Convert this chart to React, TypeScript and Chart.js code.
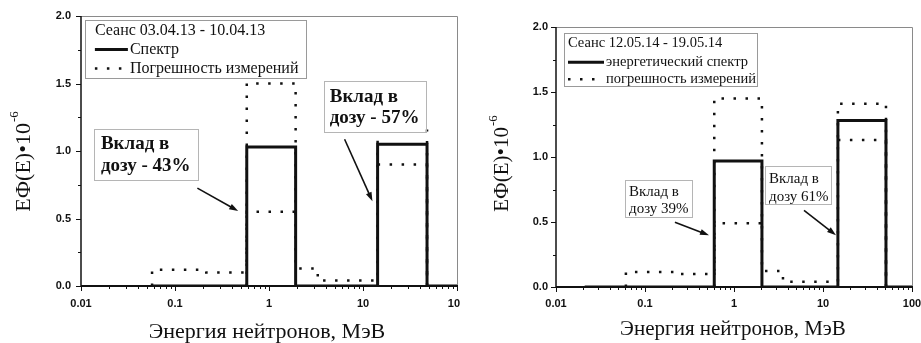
import React, { useEffect, useRef } from "react";
import { Chart, registerables } from "chart.js";

Chart.register(...registerables);

// Session 03.04.13 – 10.04.13: bin edges (MeV) and E·Φ(E) values (×10^-6)
const spectrumEdgesA = [0.057, 0.58, 1.92, 14.3, 48, 100];
const spectrumA = [0, 1.03, 0, 1.05, 0];
const upperEdgesA = [0.057, 0.215, 0.58, 1.92, 3.3, 14.3, 48];
const upperA = [0.12, 0.1, 1.5, 0.13, 0.04, 1.15];
const lowerEdgesA = [0.58, 1.92, 14.3, 48];
const lowerA: (number | null)[] = [0.55, null, 0.9];

// Session 12.05.14 – 19.05.14
const spectrumEdgesB = [0.021, 0.6, 2.06, 14.7, 51, 100];
const spectrumB = [0, 0.97, 0, 1.28, 0];
const upperEdgesB = [0.061, 0.247, 0.6, 2.06, 3.55, 14.7, 51];
const upperB = [0.115, 0.1, 1.45, 0.123, 0.04, 1.41];
const lowerEdgesB = [0.6, 2.06, 14.7, 51];
const lowerB: (number | null)[] = [0.49, null, 1.13];

// Axis ticks
const xTickValues = [0.01, 0.1, 1, 10, 100];
const xTickLabels = ["0.01", "0.1", "1", "10", "100"];
const yTickValues = [0, 0.5, 1, 1.5, 2];
const yTickLabels = ["0.0", "0.5", "1.0", "1.5", "2.0"];

const SERIF = "'Liberation Serif', 'Times New Roman', serif";
const SANS = "'Liberation Sans', Arial, sans-serif";
const INK = "#111";
const HEIGHT = 343;

type Pt = { x: number; y: number | null };

// Turns bin edges + per-bin values into a histogram outline.
function stepPoints(edges: number[], values: (number | null)[]): Pt[] {
  const pts: Pt[] = [{ x: edges[0], y: 0 }];
  values.forEach((v, i) => {
    if (v === null) pts.push({ x: (edges[i] + edges[i + 1]) / 2, y: null });
    else pts.push({ x: edges[i], y: v }, { x: edges[i + 1], y: v });
  });
  pts.push({ x: edges[edges.length - 1], y: 0 });
  return pts;
}

type Note = {
  at: [number, number];
  size: [number, number];
  lines: string[];
  lineY: number[];
  textX: number;
  font: string;
  from: [number, number];
  to: [number, number];
};

type LegendCfg = {
  at: [number, number];
  size: [number, number];
  title: string;
  items: string[];
  rowY: number[];
  sample: [number, number];
  textX: number;
  font: string;
};

type PanelCfg = {
  left: number;
  clipWidth: number;
  canvasWidth: number;
  area: { left: number; top: number; right: number; bottom: number };
  xLabelPad: number;
  yLabelPad: number;
  spectrum: Pt[];
  upper: Pt[];
  lower: Pt[];
  legend: LegendCfg;
  notes: Note[];
  yTitle: { x: number; y: number; size: number };
  xTitle: { x: number; y: number; size: number };
};

const DOT_DASH = [2.5, 9.5];

const panels: PanelCfg[] = [
  {
    left: 0,
    clipWidth: 460,
    canvasWidth: 480,
    area: { left: 81, top: 16, right: 457, bottom: 286 },
    xLabelPad: 11,
    yLabelPad: 10,
    spectrum: stepPoints(spectrumEdgesA, spectrumA),
    upper: stepPoints(upperEdgesA, upperA),
    lower: stepPoints(lowerEdgesA, lowerA),
    legend: {
      at: [0.011, 1.974],
      size: [221, 58],
      title: "Сеанс 03.04.13 - 10.04.13",
      items: ["Спектр", "Погрешность измерений"],
      rowY: [11, 30, 49],
      sample: [10, 43],
      textX: 45,
      font: `16px ${SERIF}`,
    },
    notes: [
      {
        at: [0.01373, 1.161],
        size: [104, 51],
        lines: ["Вклад в", "дозу - 43%"],
        lineY: [15, 37],
        textX: 7,
        font: `bold 19px ${SERIF}`,
        from: [0.173, 0.725],
        to: [0.47, 0.555],
      },
      {
        at: [3.82, 1.516],
        size: [102, 51],
        lines: ["Вклад в", "дозу - 57%"],
        lineY: [16, 37],
        textX: 6,
        font: `bold 19px ${SERIF}`,
        from: [6.37, 1.087],
        to: [12.6, 0.628],
      },
    ],
    yTitle: { x: 24, y: 162, size: 22 },
    xTitle: { x: 267, y: 332, size: 22 },
  },
  {
    left: 460,
    clipWidth: 461,
    canvasWidth: 470,
    area: { left: 96, top: 27, right: 452, bottom: 287 },
    xLabelPad: 10,
    yLabelPad: 8,
    spectrum: stepPoints(spectrumEdgesB, spectrumB),
    upper: stepPoints(upperEdgesB, upperB),
    lower: stepPoints(lowerEdgesB, lowerB),
    legend: {
      at: [0.0123, 1.952],
      size: [193, 53],
      title: "Сеанс 12.05.14 - 19.05.14",
      items: ["энергетический спектр", "погрешность измерений"],
      rowY: [10, 29, 46],
      sample: [4, 40],
      textX: 42,
      font: `14.5px ${SERIF}`,
    },
    notes: [
      {
        at: [0.0596, 0.821],
        size: [67, 37],
        lines: ["Вклад в", "дозу 39%"],
        lineY: [12, 29],
        textX: 4,
        font: `15px ${SERIF}`,
        from: [0.217, 0.498],
        to: [0.524, 0.398],
      },
      {
        at: [2.23, 0.928],
        size: [66, 38],
        lines: ["Вклад в", "дозу 61%"],
        lineY: [13, 31],
        textX: 4,
        font: `15px ${SERIF}`,
        from: [6.12, 0.59],
        to: [14.0, 0.398],
      },
    ],
    yTitle: { x: 42, y: 164, size: 21 },
    xTitle: { x: 273, y: 329, size: 21 },
  },
];

function drawArrow(ctx: CanvasRenderingContext2D, x1: number, y1: number, x2: number, y2: number) {
  const ang = Math.atan2(y2 - y1, x2 - x1);
  const len = 9;
  const half = 3;
  ctx.save();
  ctx.strokeStyle = INK;
  ctx.fillStyle = INK;
  ctx.lineWidth = 1.6;
  ctx.beginPath();
  ctx.moveTo(x1, y1);
  ctx.lineTo(x2 - Math.cos(ang) * len * 0.8, y2 - Math.sin(ang) * len * 0.8);
  ctx.stroke();
  ctx.beginPath();
  ctx.moveTo(x2, y2);
  ctx.lineTo(
    x2 - Math.cos(ang) * len - Math.sin(ang) * half,
    y2 - Math.sin(ang) * len + Math.cos(ang) * half
  );
  ctx.lineTo(
    x2 - Math.cos(ang) * len + Math.sin(ang) * half,
    y2 - Math.sin(ang) * len - Math.cos(ang) * half
  );
  ctx.closePath();
  ctx.fill();
  ctx.restore();
}

function makeDecorPlugin(cfg: PanelCfg) {
  return {
    id: "decor",
    afterDatasetsDraw(chart: any) {
      const ctx: CanvasRenderingContext2D = chart.ctx;
      const xs = chart.scales.x;
      const ys = chart.scales.y;
      const a = chart.chartArea;
      const px = (v: number) => xs.getPixelForValue(v);
      const py = (v: number) => ys.getPixelForValue(v);

      ctx.save();
      // frame: light top/right, dark axes
      ctx.strokeStyle = "#8a8a8a";
      ctx.lineWidth = 1;
      ctx.beginPath();
      ctx.moveTo(a.left, a.top + 0.5);
      ctx.lineTo(a.right + 0.5, a.top + 0.5);
      ctx.lineTo(a.right + 0.5, a.bottom);
      ctx.stroke();

      ctx.strokeStyle = INK;
      ctx.lineWidth = 1.5;
      ctx.beginPath();
      ctx.moveTo(a.left, a.top);
      ctx.lineTo(a.left, a.bottom);
      ctx.stroke();
      ctx.lineWidth = 2;
      ctx.beginPath();
      ctx.moveTo(a.left, a.bottom);
      ctx.lineTo(a.right + 1, a.bottom);
      ctx.stroke();

      // tick marks
      ctx.lineWidth = 1;
      ctx.beginPath();
      for (let n = -2; n <= 2; n++) {
        for (let k = 1; k <= 9; k++) {
          const v = k * Math.pow(10, n);
          if (v > 100.0001) break;
          const x = Math.round(px(v)) + 0.5;
          const len = k === 1 ? 5 : 3;
          ctx.moveTo(x, a.bottom);
          ctx.lineTo(x, a.bottom + len);
        }
      }
      for (let i = 0; i <= 8; i++) {
        const v = i * 0.25;
        const y = Math.round(py(v)) + 0.5;
        const len = i % 2 === 0 ? 5 : 3;
        ctx.moveTo(a.left - len, y);
        ctx.lineTo(a.left, y);
      }
      ctx.stroke();

      // legend
      const lg = cfg.legend;
      const lx = px(lg.at[0]);
      const ly = py(lg.at[1]);
      ctx.fillStyle = "#fff";
      ctx.fillRect(lx, ly, lg.size[0], lg.size[1]);
      ctx.strokeStyle = "#9a9a9a";
      ctx.lineWidth = 1;
      ctx.strokeRect(Math.round(lx) + 0.5, Math.round(ly) + 0.5, lg.size[0], lg.size[1]);
      ctx.fillStyle = INK;
      ctx.font = lg.font;
      ctx.textBaseline = "middle";
      ctx.textAlign = "left";
      ctx.fillText(lg.title, lx + lg.sample[0], ly + lg.rowY[0]);
      lg.items.forEach((label, i) => {
        const y = ly + lg.rowY[i + 1];
        ctx.save();
        ctx.strokeStyle = INK;
        if (i === 0) {
          ctx.lineWidth = 3;
          ctx.setLineDash([]);
        } else {
          ctx.lineWidth = 2.5;
          ctx.setLineDash(DOT_DASH);
        }
        ctx.beginPath();
        ctx.moveTo(lx + lg.sample[0], y);
        ctx.lineTo(lx + lg.sample[1], y);
        ctx.stroke();
        ctx.restore();
        ctx.fillText(label, lx + lg.textX, y);
      });

      // callouts
      cfg.notes.forEach((n) => {
        const bx = px(n.at[0]);
        const by = py(n.at[1]);
        ctx.fillStyle = "#fff";
        ctx.fillRect(bx, by, n.size[0], n.size[1]);
        ctx.strokeStyle = "#b5b5b5";
        ctx.lineWidth = 1;
        ctx.strokeRect(Math.round(bx) + 0.5, Math.round(by) + 0.5, n.size[0], n.size[1]);
        ctx.fillStyle = INK;
        ctx.font = n.font;
        ctx.textBaseline = "middle";
        ctx.textAlign = "left";
        n.lines.forEach((t, i) => ctx.fillText(t, bx + n.textX, by + n.lineY[i]));
        drawArrow(ctx, px(n.from[0]), py(n.from[1]), px(n.to[0]), py(n.to[1]));
      });

      // axis titles
      ctx.fillStyle = INK;
      ctx.textBaseline = "middle";
      ctx.textAlign = "center";
      ctx.font = `${cfg.xTitle.size}px ${SERIF}`;
      ctx.fillText("Энергия нейтронов, МэВ", cfg.xTitle.x, cfg.xTitle.y);

      const main = "EФ(E)•10";
      const sup = "-6";
      ctx.save();
      ctx.translate(cfg.yTitle.x, cfg.yTitle.y);
      ctx.rotate(-Math.PI / 2);
      ctx.textAlign = "left";
      ctx.font = `${cfg.yTitle.size}px ${SERIF}`;
      const wm = ctx.measureText(main).width;
      ctx.font = `${Math.round(cfg.yTitle.size * 0.6)}px ${SERIF}`;
      const ws = ctx.measureText(sup).width;
      const start = -(wm + ws) / 2;
      ctx.font = `${cfg.yTitle.size}px ${SERIF}`;
      ctx.fillText(main, start, 0);
      ctx.font = `${Math.round(cfg.yTitle.size * 0.6)}px ${SERIF}`;
      ctx.fillText(sup, start + wm + 1, -cfg.yTitle.size * 0.42);
      ctx.restore();

      ctx.restore();
    },
  };
}

function Panel({ cfg }: { cfg: PanelCfg }) {
  const ref = useRef<HTMLCanvasElement | null>(null);

  useEffect(() => {
    if (!ref.current) return;
    const { area, canvasWidth } = cfg;
    const chart = new Chart(ref.current, {
      type: "line",
      data: {
        datasets: [
          {
            label: "spectrum",
            data: cfg.spectrum as any,
            borderColor: INK,
            borderWidth: 3,
            pointRadius: 0,
            tension: 0,
            borderJoinStyle: "miter",
            spanGaps: false,
          },
          {
            label: "upper",
            data: cfg.upper as any,
            borderColor: INK,
            borderWidth: 2.5,
            borderDash: DOT_DASH,
            pointRadius: 0,
            tension: 0,
            spanGaps: false,
          },
          {
            label: "lower",
            data: cfg.lower as any,
            borderColor: INK,
            borderWidth: 2.5,
            borderDash: DOT_DASH,
            pointRadius: 0,
            tension: 0,
            spanGaps: false,
          },
        ],
      },
      options: {
        responsive: false,
        animation: false,
        events: [],
        devicePixelRatio: 1,
        layout: {
          padding: { left: 0, top: area.top, right: canvasWidth - area.right, bottom: 0 },
        },
        plugins: {
          legend: { display: false },
          tooltip: { enabled: false },
        },
        scales: {
          x: {
            type: "logarithmic",
            min: 0.01,
            max: 100,
            grid: { display: false, drawTicks: false },
            border: { display: false },
            afterBuildTicks: (s: any) => {
              s.ticks = xTickValues.map((v) => ({ value: v }));
            },
            afterFit: (s: any) => {
              s.height = HEIGHT - area.bottom;
              s.paddingLeft = 0;
              s.paddingRight = 0;
            },
            ticks: {
              autoSkip: false,
              maxRotation: 0,
              minRotation: 0,
              padding: cfg.xLabelPad,
              color: INK,
              font: { family: SANS, weight: "bold", size: 11 },
              callback: (_v: any, i: number) => xTickLabels[i],
            },
          },
          y: {
            type: "linear",
            min: 0,
            max: 2,
            grid: { display: false, drawTicks: false },
            border: { display: false },
            afterBuildTicks: (s: any) => {
              s.ticks = yTickValues.map((v) => ({ value: v }));
            },
            afterFit: (s: any) => {
              s.width = area.left;
              s.paddingTop = 0;
              s.paddingBottom = 0;
            },
            ticks: {
              padding: cfg.yLabelPad,
              color: INK,
              font: { family: SANS, weight: "bold", size: 11 },
              callback: (_v: any, i: number) => yTickLabels[i],
            },
          },
        },
      } as any,
      plugins: [makeDecorPlugin(cfg)],
    });
    return () => chart.destroy();
  }, [cfg]);

  return (
    <div
      style={{
        position: "absolute",
        left: cfg.left,
        top: 0,
        width: cfg.clipWidth,
        height: HEIGHT,
        overflow: "hidden",
      }}
    >
      <canvas ref={ref} width={cfg.canvasWidth} height={HEIGHT} style={{ display: "block" }} />
    </div>
  );
}

export default function App() {
  return (
    <div
      style={{
        position: "fixed",
        left: 0,
        top: 0,
        width: 921,
        height: HEIGHT,
        overflow: "hidden",
        background: "#fff",
      }}
    >
      {panels.map((p, i) => (
        <Panel key={i} cfg={p} />
      ))}
    </div>
  );
}
